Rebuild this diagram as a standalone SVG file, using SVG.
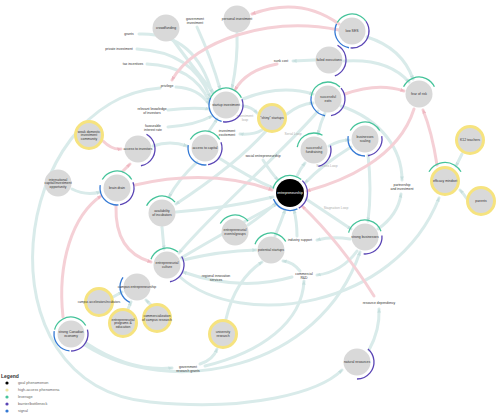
<svg xmlns="http://www.w3.org/2000/svg" width="500" height="415" viewBox="0 0 500 415">
<defs>
<style>
.t{fill:none;stroke:#d9ebea;stroke-width:3;stroke-linecap:round;marker-end:url(#at)}
.p{fill:none;stroke:#f5d0d6;stroke-width:3;stroke-linecap:round;marker-end:url(#ap)}
.nd{fill:#d9d9d9}
.y{fill:#d9d9d9;stroke:#f6e37f;stroke-width:3}
.G,.P,.B{fill:none;stroke-width:1.3}
.G{stroke:#45c39a}.P{stroke:#5a45b5}.B{stroke:#3479d4}
text{font-family:"Liberation Sans",Arial,sans-serif;font-size:3.4px;text-anchor:middle;fill:#333}
.w{fill:#fff}
.gr{fill:#b0b0b0}
.lg{text-anchor:start;font-size:3.8px;fill:#666}
</style>
<marker id="at" viewBox="0 0 10 10" refX="8" refY="5" markerWidth="4.5" markerHeight="4.5" markerUnits="userSpaceOnUse" orient="auto"><path d="M0,1 L9,5 L0,9 z" fill="#c6dfde"/></marker>
<marker id="ap" viewBox="0 0 10 10" refX="8" refY="5" markerWidth="4.5" markerHeight="4.5" markerUnits="userSpaceOnUse" orient="auto"><path d="M0,1 L9,5 L0,9 z" fill="#efb7c1"/></marker>
</defs>
<rect width="500" height="415" fill="#fff"/>
<g id="connectors">
<path class="t" d="M173,40 Q195,70 213,92"/>
<path class="t" d="M197,27 Q212,60 220,89"/>
<path class="t" d="M139,34 Q195,32 212,93"/>
<path class="t" d="M137,49 Q193,52 210,97"/>
<path class="t" d="M147,64 Q193,66 209,101"/>
<path class="t" d="M176,87 Q198,88 209,104"/>
<path class="t" d="M168,110 Q192,107 209,109"/>
<path class="t" d="M168,127 Q196,125 212,116"/>
<path class="t" d="M237,33 Q238,60 232,88"/>
<path class="t" d="M315,60 L293,61"/>
<path class="t" d="M367,37 Q402,48 413,79"/>
<path class="t" d="M344,61 Q388,58 409,82"/>
<path class="t" d="M243,106 Q252,107 257,113"/>
<path class="t" d="M262,130 Q254,135 240,134"/>
<path class="t" d="M209,131 Q214,124 217,119"/>
<path class="t" d="M153,146 Q170,140 187,146"/>
<path class="t" d="M72,189 Q86,196 100,192"/>
<path class="t" d="M219,158 Q250,178 273,188"/>
<path class="t" d="M263,160 Q272,174 278,180"/>
<path class="t" d="M297,176 Q300,169 305,163"/>
<path class="t" d="M325,113 Q320,124 318,134"/>
<path class="t" d="M287,114 Q300,104 313,103"/>
<path class="t" d="M243,99 Q280,84 313,94"/>
<path class="t" d="M329,146 Q340,140 349,140"/>
<path class="t" d="M351,147 Q322,165 305,183"/>
<path class="t" d="M368,155 Q372,190 368,221"/>
<path class="t" d="M341,106 C382,120 402,150 402,180"/>
<path class="t" d="M378,229 Q398,215 401,194"/>
<path class="t" d="M350,239 Q332,236 317,240"/>
<path class="t" d="M297,236 Q297,222 294,210"/>
<path class="t" d="M275,236 Q281,222 285,210"/>
<path class="t" d="M248,225 Q264,214 276,203"/>
<path class="t" d="M176,212 Q228,208 273,197"/>
<path class="t" d="M181,258 Q232,228 277,204"/>
<path class="t" d="M162,227 L164,249"/>
<path class="t" d="M183,260 Q220,251 256,250"/>
<path class="t" d="M113,297 L122,292"/>
<path class="t" d="M128,309 L131,302"/>
<path class="t" d="M151,305 L146,300"/>
<path class="t" d="M292,277 Q240,292 183,272"/>
<path class="t" d="M300,271 Q293,262 283,261"/>
<path class="t" d="M357,251 Q342,272 317,275"/>
<path class="t" d="M226,319 Q235,280 262,262"/>
<path class="t" d="M200,364 Q213,360 217,349"/>
<path class="t" d="M86,343 Q130,372 172,368"/>
<path class="t" d="M205,366 C262,352 302,322 304,281"/>
<path class="t" d="M85,345 C170,400 320,370 360,252"/>
<path class="t" d="M180,277 C240,330 395,310 439,198"/>
<path class="t" d="M160,88 C10,100 -25,385 150,402 C250,412 320,392 342,370"/>
<path class="t" d="M369,350 Q380,330 379,309"/>
<path class="t" d="M462,154 Q459,160 456,166"/>
<path class="t" d="M467,199 Q463,193 460,190"/>
<path class="t" d="M197,162 Q178,180 169,197"/>
<path class="t" d="M266,131 C240,160 205,185 176,204"/>
<path class="t" d="M318,111 C285,150 215,210 179,253"/>
<path class="t" d="M306,199 Q330,215 351,229"/>
<path class="p" d="M339,24 Q300,-4 252,14"/>
<path class="p" d="M339,30 C270,16 195,40 172,80"/>
<path class="p" d="M277,64 Q246,70 235,90"/>
<path class="p" d="M345,94 Q378,82 404,91"/>
<path class="p" d="M414,109 C398,160 340,182 307,191"/>
<path class="p" d="M437,165 Q432,132 423,110"/>
<path class="p" d="M135,185 Q210,168 272,190"/>
<path class="p" d="M103,141 Q112,150 121,149"/>
<path class="p" d="M123,171 L130,164"/>
<path class="p" d="M116,206 C115,240 130,256 151,262"/>
<path class="p" d="M63,317 C57,262 73,215 101,196"/>
<path class="p" d="M374,296 Q340,242 302,206"/>
</g>
<g id="labels">
<text x="195" y="20">government</text><text x="195" y="23.6">investment</text>
<text x="129" y="35">grants</text>
<text x="119" y="50">private investment</text>
<text x="133" y="65">tax incentives</text>
<text x="167" y="87">privilege</text>
<text x="152" y="110">relevant knowledge</text><text x="152" y="113.6">of investors</text>
<text x="153" y="127">favourable</text><text x="153" y="130.6">interest rate</text>
<text x="281" y="62">sunk cost</text>
<text x="227" y="132">investment</text><text x="227" y="135.6">excitement</text>
<text x="263" y="157">social entrepreneurship</text>
<text x="402" y="186">partnership</text><text x="402" y="189.6">and investment</text>
<text x="300" y="241">industry support</text>
<text x="216" y="277">regional innovation</text><text x="216" y="280.6">services</text>
<text x="304" y="275">commercial</text><text x="304" y="278.6">R&amp;D</text>
<text x="188" y="368">government</text><text x="188" y="371.6">research grants</text>
<text x="379" y="304">resource dependency</text>
<text class="gr" x="245" y="117">investment</text><text class="gr" x="245" y="120.6">loop</text>
<text class="gr" x="293" y="135">Serial Loop</text>
<text class="gr" x="327" y="167">Success Loop</text>
<text class="gr" x="336" y="209">Stagnation Loop</text>
</g>
<g id="personal-investment" transform="translate(237,19)"><circle class="nd" r="13.5"/><text y="1.2">personal investment</text></g>
<g id="crowdfunding" transform="translate(166,28)"><circle class="nd" r="13.5"/><text y="1.2">crowdfunding</text></g>
<g id="startup-investment" transform="translate(226,105)"><circle class="nd" r="13.5"/>
<circle class="G" r="17" pathLength="360" stroke-dasharray="135 360" transform="rotate(-160)"/>
<circle class="P" r="17" pathLength="360" stroke-dasharray="120 360" transform="rotate(-20)"/>
<circle class="B" r="17" pathLength="360" stroke-dasharray="100 360" transform="rotate(105)"/>
<text y="1.2">startup investment</text></g>
<g id="shiny-startups" transform="translate(272,118)"><circle class="y" r="13.5"/><text y="1.2">"shiny" startups</text></g>
<g id="low-ses" transform="translate(352,31)"><circle class="nd" r="13.5"/>
<circle class="G" r="17" pathLength="360" stroke-dasharray="115 360" transform="rotate(-150)"/>
<circle class="P" r="17" pathLength="360" stroke-dasharray="130 360" transform="rotate(-35)"/>
<circle class="B" r="17" pathLength="360" stroke-dasharray="105 360" transform="rotate(100)"/>
<text y="1.2">low SES</text></g>
<g id="failed-executions" transform="translate(329,60)"><circle class="nd" r="13.5"/>
<circle class="P" r="17" pathLength="360" stroke-dasharray="130 360" transform="rotate(-60)"/>
<text y="1.2">failed executions</text></g>
<g id="successful-exits" transform="translate(328,99)"><circle class="nd" r="13.5"/>
<circle class="G" r="17" pathLength="360" stroke-dasharray="125 360" transform="rotate(-170)"/>
<circle class="P" r="17" pathLength="360" stroke-dasharray="120 360" transform="rotate(-40)"/>
<circle class="B" r="17" pathLength="360" stroke-dasharray="90 360" transform="rotate(100)"/>
<text y="-0.6">successful</text><text y="3">exits</text></g>
<g id="fear-of-risk" transform="translate(419,94)"><circle class="nd" r="13.5"/>
<circle class="G" r="17" pathLength="360" stroke-dasharray="130 360" transform="rotate(-155)"/>
<text y="1.2">fear of risk</text></g>
<g id="access-to-capital" transform="translate(205,148)"><circle class="nd" r="13.5"/>
<circle class="G" r="17" pathLength="360" stroke-dasharray="120 360" transform="rotate(-150)"/>
<circle class="P" r="17" pathLength="360" stroke-dasharray="100 360" transform="rotate(-20)"/>
<circle class="B" r="17" pathLength="360" stroke-dasharray="105 360" transform="rotate(85)"/>
<text y="1.2">access to capital</text></g>
<g id="successful-fundraising" transform="translate(314,150)"><circle class="nd" r="13.5"/>
<circle class="G" r="17" pathLength="360" stroke-dasharray="110 360" transform="rotate(-170)"/>
<circle class="P" r="17" pathLength="360" stroke-dasharray="90 360" transform="rotate(-15)"/>
<text y="-0.6">successful</text><text y="3">fundraising</text></g>
<g id="businesses-scaling" transform="translate(365,139)"><circle class="nd" r="13.5"/>
<circle class="G" r="17" pathLength="360" stroke-dasharray="120 360" transform="rotate(-150)"/>
<circle class="P" r="17" pathLength="360" stroke-dasharray="90 360" transform="rotate(-10)"/>
<circle class="B" r="17" pathLength="360" stroke-dasharray="100 360" transform="rotate(90)"/>
<text y="-0.6">businesses</text><text y="3">scaling</text></g>
<g id="entrepreneurship" transform="translate(290,193)"><circle r="14" fill="#000"/>
<circle class="G" r="17.5" pathLength="360" stroke-dasharray="115 360" transform="rotate(-165)"/>
<circle class="P" r="17.5" pathLength="360" stroke-dasharray="105 360" transform="rotate(-45)"/>
<circle class="B" r="17.5" pathLength="360" stroke-dasharray="95 360" transform="rotate(65)"/>
<text class="w" y="1.2">entrepreneurship</text></g>
<g id="weak-domestic-investment-community" transform="translate(89,135)"><circle class="y" r="13.5"/><text y="-2.4">weak domestic</text><text y="1.2">investment</text><text y="4.8">community</text></g>
<g id="access-to-investors" transform="translate(138,149)"><circle class="nd" r="13.5"/>
<circle class="P" r="17" pathLength="360" stroke-dasharray="140 360" transform="rotate(-60)"/>
<text y="1.2">access to investors</text></g>
<g id="international-capital" transform="translate(58,183)"><circle class="nd" r="13.5"/><text y="-2.4">international</text><text y="1.2">capital/investment</text><text y="4.8">opportunity</text></g>
<g id="brain-drain" transform="translate(117,188)"><circle class="nd" r="13.5"/>
<circle class="G" r="17" pathLength="360" stroke-dasharray="120 360" transform="rotate(-150)"/>
<circle class="P" r="17" pathLength="360" stroke-dasharray="100 360" transform="rotate(-20)"/>
<circle class="B" r="17" pathLength="360" stroke-dasharray="105 360" transform="rotate(85)"/>
<text y="1.2">brain drain</text></g>
<g id="availability-of-incubators" transform="translate(162,213)"><circle class="nd" r="13.5"/>
<circle class="G" r="17" pathLength="360" stroke-dasharray="115 360" transform="rotate(-155)"/>
<text y="-0.6">availability</text><text y="3">of incubators</text></g>
<g id="entrepreneurial-events" transform="translate(235,232)"><circle class="nd" r="13.5"/>
<circle class="G" r="17" pathLength="360" stroke-dasharray="110 360" transform="rotate(-150)"/>
<text y="-0.6">entrepreneurial</text><text y="3">events/groups</text></g>
<g id="potential-startups" transform="translate(271,250)"><circle class="nd" r="13.5"/>
<circle class="G" r="17" pathLength="360" stroke-dasharray="130 360" transform="rotate(-160)"/>
<text y="1.2">potential startups</text></g>
<g id="entrepreneurial-culture" transform="translate(167,265)"><circle class="nd" r="13.5"/>
<circle class="G" r="17" pathLength="360" stroke-dasharray="110 360" transform="rotate(-160)"/>
<circle class="P" r="17" pathLength="360" stroke-dasharray="110 360" transform="rotate(-30)"/>
<text y="-0.6">entrepreneurial</text><text y="3">culture</text></g>
<g id="strong-businesses" transform="translate(365,237)"><circle class="nd" r="13.5"/>
<circle class="G" r="17" pathLength="360" stroke-dasharray="145 360" transform="rotate(-165)"/>
<circle class="P" r="17" pathLength="360" stroke-dasharray="100 360" transform="rotate(-5)"/>
<text y="1.2">strong businesses</text></g>
<g id="efficacy-mindset" transform="translate(445,181)"><circle class="y" r="13.5"/>
<circle class="G" r="18.5" pathLength="360" stroke-dasharray="120 360" transform="rotate(-150)"/>
<text y="1.2">efficacy mindset</text></g>
<g id="k12-teachers" transform="translate(470,140)"><circle class="y" r="13.5"/><text y="1.2">K12 teachers</text></g>
<g id="parents" transform="translate(481,201)"><circle class="y" r="13.5"/><text y="1.2">parents</text></g>
<g id="campus-entrepreneurship" transform="translate(137,287)"><circle class="nd" r="13.5"/>
<circle class="B" r="17" pathLength="360" stroke-dasharray="100 360" transform="rotate(115)"/>
<text y="1.2">campus entrepreneurship</text></g>
<g id="campus-accelerators" transform="translate(99,302)"><circle class="y" r="13.5"/><text y="1" style="font-size:3px">campus accelerators/incubators</text></g>
<g id="entrepreneurial-programs" transform="translate(123,323)"><circle class="y" r="13.5"/><text y="-2.4">entrepreneurial</text><text y="1.2">programs &amp;</text><text y="4.8">education</text></g>
<g id="commercialization" transform="translate(157,318)"><circle class="y" r="13.5"/><text y="-0.6">commercialization</text><text y="3">of campus research</text></g>
<g id="strong-canadian-economy" transform="translate(71,334)"><circle class="nd" r="13.5"/>
<circle class="G" r="17" pathLength="360" stroke-dasharray="135 360" transform="rotate(-165)"/>
<circle class="P" r="17" pathLength="360" stroke-dasharray="105 360" transform="rotate(-15)"/>
<circle class="B" r="17" pathLength="360" stroke-dasharray="95 360" transform="rotate(95)"/>
<text y="-0.6">strong Canadian</text><text y="3">economy</text></g>
<g id="university-research" transform="translate(223,334)"><circle class="y" r="13.5"/><text y="-0.6">university</text><text y="3">research</text></g>
<g id="natural-resources" transform="translate(357,362)"><circle class="nd" r="13.5"/>
<circle class="P" r="17" pathLength="360" stroke-dasharray="140 360" transform="rotate(-50)"/>
<text y="1.2">natural resources</text></g>
<g id="legend">
<text x="1" y="378" style="font-size:5px;font-weight:bold;text-anchor:start;fill:#333">Legend</text>
<circle cx="7" cy="383" r="1.6" fill="#000"/><text class="lg" x="18" y="384.3">goal phenomenon</text>
<circle cx="7" cy="390" r="1.6" fill="#efe3a0"/><text class="lg" x="18" y="391.3">high-access phenomena</text>
<circle cx="7" cy="397" r="1.6" fill="#45c39a"/><text class="lg" x="18" y="398.3">leverage</text>
<circle cx="7" cy="404" r="1.6" fill="#5a45b5"/><text class="lg" x="18" y="405.3">barrier/bottleneck</text>
<circle cx="7" cy="411" r="1.6" fill="#3479d4"/><text class="lg" x="18" y="412.3">signal</text>
</g>
</svg>
